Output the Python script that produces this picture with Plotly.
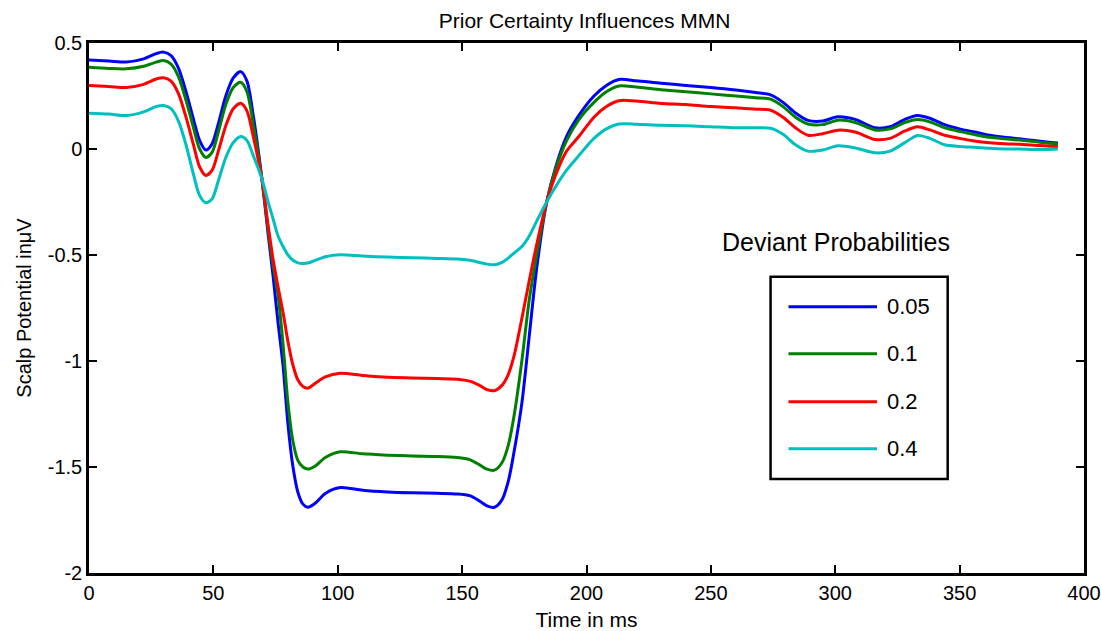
import plotly.graph_objects as go

# ---------------- data ----------------
time_ms = [0, 8, 15, 22, 27, 30, 33, 36, 39, 42, 44.5, 47, 49.5, 52, 55, 58, 61,
           63.5, 66, 69.5, 72, 74, 76, 78, 80, 82, 84, 86, 88, 91, 95,
           101, 110, 120, 130, 140, 148, 153, 157, 160, 163, 166, 168.5,
           171, 174, 177, 180, 184, 188, 192, 197, 203, 208, 213,
           220, 230, 240, 250, 260, 268, 274, 279, 284, 289, 295, 301,
           308, 316, 322, 328, 333, 338, 344, 350, 356, 362, 368, 374,
           380, 385, 389.5]

p005 = [0.42, 0.415, 0.41, 0.425, 0.45, 0.457, 0.44, 0.38, 0.27, 0.14, 0.04, -0.005, 0.025, 0.12, 0.25, 0.335, 0.365,
        0.32, 0.16, -0.14, -0.40, -0.60, -0.82, -1.02, -1.30, -1.50, -1.62, -1.675, -1.69, -1.67, -1.625,
        -1.597, -1.61, -1.618, -1.622, -1.624, -1.627, -1.635, -1.66, -1.683, -1.69, -1.655, -1.57,
        -1.42, -1.20, -0.88, -0.56, -0.25, -0.07, 0.06, 0.16, 0.25, 0.30, 0.328,
        0.322, 0.31, 0.30, 0.29, 0.278, 0.266, 0.255, 0.22, 0.17, 0.135, 0.132, 0.152,
        0.14, 0.10, 0.105, 0.14, 0.158, 0.145, 0.115, 0.095, 0.08, 0.065, 0.055, 0.048,
        0.04, 0.033, 0.028]

p01 = [0.386, 0.38, 0.378, 0.39, 0.41, 0.417, 0.40, 0.34, 0.23, 0.10, 0.0, -0.04, -0.015, 0.08, 0.21, 0.29, 0.315,
       0.27, 0.12, -0.14, -0.38, -0.55, -0.69, -0.92, -1.20, -1.38, -1.47, -1.50, -1.51, -1.495, -1.455,
       -1.428, -1.438, -1.444, -1.448, -1.45, -1.455, -1.465, -1.49, -1.51, -1.515, -1.48, -1.40,
       -1.25, -1.00, -0.71, -0.50, -0.25, -0.08, 0.04, 0.14, 0.22, 0.27, 0.297,
       0.292, 0.28, 0.27, 0.26, 0.25, 0.242, 0.235, 0.20, 0.15, 0.118, 0.115, 0.136,
       0.125, 0.09, 0.095, 0.125, 0.139, 0.128, 0.10, 0.083, 0.068, 0.055, 0.048, 0.042,
       0.035, 0.028, 0.024]

p02 = [0.30, 0.295, 0.29, 0.305, 0.33, 0.336, 0.32, 0.26, 0.15, 0.02, -0.085, -0.125, -0.10, -0.01, 0.11, 0.19, 0.216,
       0.18, 0.06, -0.14, -0.36, -0.52, -0.65, -0.77, -0.91, -1.02, -1.09, -1.12, -1.128, -1.105, -1.075,
       -1.058, -1.068, -1.077, -1.08, -1.083, -1.086, -1.095, -1.115, -1.135, -1.14, -1.115, -1.065,
       -0.97, -0.80, -0.62, -0.45, -0.25, -0.11, -0.01, 0.06, 0.15, 0.20, 0.228,
       0.226, 0.215, 0.21, 0.20, 0.195, 0.188, 0.183, 0.15, 0.10, 0.065, 0.072, 0.089,
       0.08, 0.045, 0.05, 0.085, 0.105, 0.09, 0.065, 0.05, 0.038, 0.03, 0.025, 0.022,
       0.018, 0.014, 0.012]

p04 = [0.169, 0.165, 0.158, 0.175, 0.20, 0.205, 0.19, 0.13, 0.02, -0.12, -0.22, -0.254, -0.235, -0.15, -0.04, 0.03, 0.059,
       0.04, -0.03, -0.14, -0.25, -0.33, -0.41, -0.46, -0.50, -0.525, -0.537, -0.54, -0.538, -0.525, -0.508,
       -0.499, -0.505, -0.51, -0.513, -0.516, -0.519, -0.525, -0.535, -0.543, -0.546, -0.535, -0.515,
       -0.49, -0.46, -0.41, -0.34, -0.25, -0.17, -0.10, -0.03, 0.05, 0.095, 0.118,
       0.117, 0.112, 0.11, 0.105, 0.10, 0.10, 0.098, 0.07, 0.02, -0.01, -0.005, 0.015,
       0.005, -0.018, -0.01, 0.03, 0.064, 0.05, 0.02, 0.012, 0.008, 0.003, 0.0, 0.0,
       -0.002, -0.002, 0.0]

series_names = ["0.05", "0.1", "0.2", "0.4"]
series_values = [p005, p01, p02, p04]
series_colors = ["rgb(0,0,255)", "rgb(0,128,0)", "rgb(255,0,0)", "rgb(0,191,191)"]

x_ticks = [0, 50, 100, 150, 200, 250, 300, 350, 400]
y_ticks = [0.5, 0, -0.5, -1, -1.5, -2]
y_tick_text = ["0.5", "0", "-0.5", "-1", "-1.5", "-2"]

title_text = "Prior Certainty Influences MMN"
x_label = "Time in ms"
y_label = "Scalp Potential in\u03bcV"
legend_title = "Deviant Probabilities"

# ---------------- figure ----------------
FONT = "Arial, Liberation Sans, sans-serif"
fig = go.Figure()
for name, vals, col in zip(series_names, series_values, series_colors):
    fig.add_trace(go.Scatter(x=time_ms, y=vals, mode="lines", name=name,
                             line=dict(color=col, width=3, shape="spline", smoothing=0.8),
                             showlegend=False))

# manual legend (box, swatches, labels) in paper coordinates
box = dict(x0=0.685, x1=0.863, y0=0.1775, y1=0.559)
row_y = [0.5024, 0.4136, 0.3229, 0.2342]
fig.add_shape(type="rect", xref="paper", yref="paper", **box,
              line=dict(color="black", width=2.5), fillcolor="white", layer="above")
for name, col, ry in zip(series_names, series_colors, row_y):
    fig.add_shape(type="line", xref="paper", yref="paper", x0=0.703, x1=0.792, y0=ry, y1=ry,
                  line=dict(color=col, width=3), layer="above")
    fig.add_annotation(xref="paper", yref="paper", x=0.800, y=ry, text=name, showarrow=False,
                       xanchor="left", yanchor="middle", font=dict(family=FONT, size=22, color="black"))
fig.add_annotation(xref="paper", yref="paper", x=0.751, y=0.625, text=legend_title, showarrow=False,
                   xanchor="center", yanchor="middle", font=dict(family=FONT, size=25, color="black"))

axis_common = dict(showline=True, linecolor="black", linewidth=2.5, mirror="ticks",
                   ticks="inside", ticklen=8, tickwidth=2, tickcolor="black",
                   showgrid=False, zeroline=False, automargin=False,
                   tickfont=dict(family=FONT, size=20, color="black"))

fig.update_layout(
    width=1101, height=631, autosize=False,
    paper_bgcolor="white", plot_bgcolor="white",
    margin=dict(l=89, r=17, t=43, b=58),
    title=dict(text=title_text, x=0.531, xanchor="center", y=0.967, yanchor="middle",
               font=dict(family=FONT, size=21, color="black")),
    xaxis=dict(range=[0, 400], tickvals=x_ticks,
               title=dict(text=x_label, standoff=12, font=dict(family=FONT, size=21, color="black")),
               **axis_common),
    yaxis=dict(range=[-2, 0.5], tickvals=y_ticks, ticktext=y_tick_text,
               title=dict(text=y_label, standoff=11, font=dict(family=FONT, size=20, color="black")),
               **axis_common),
)

fig.write_html("out.html", config={"displayModeBar": False},
               post_script="document.body.style.margin='0';")
